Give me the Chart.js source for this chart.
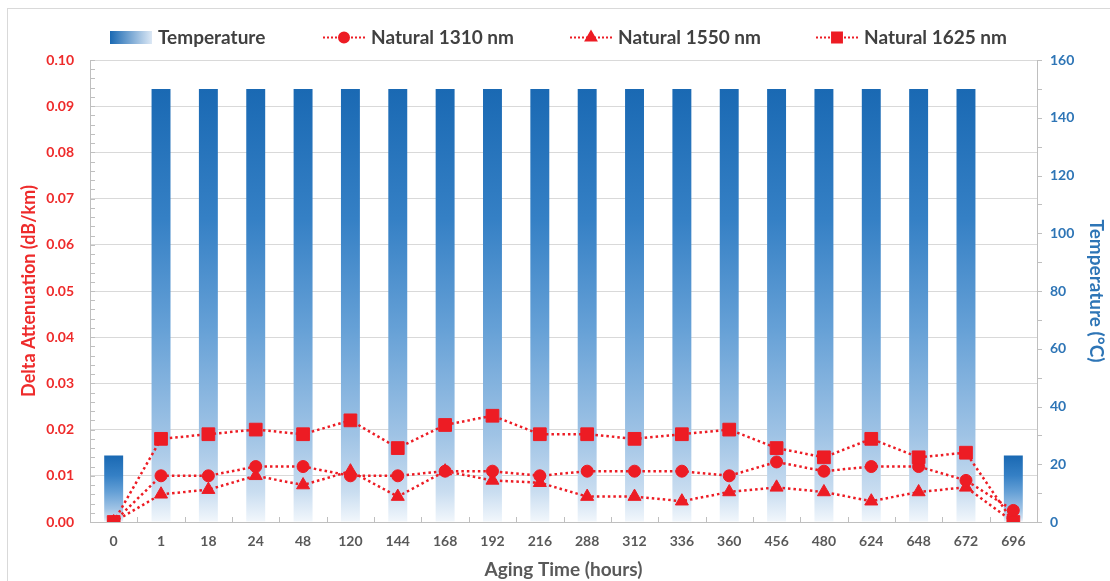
<!DOCTYPE html>
<html>
<head>
<meta charset="utf-8">
<script src="https://cdn.jsdelivr.net/npm/chart.js@4.4.1/dist/chart.umd.min.js"></script>
<style>
  html, body { margin: 0; padding: 0; background: #ffffff; }
  #wrap { position: relative; width: 1110px; height: 581px; }
</style>
</head>
<body>
<div id="wrap"><canvas id="chart" width="1110" height="581"></canvas></div>
<script>
// Aging time points (hours)
const agingHours = ['0', '1', '18', '24', '48', '120', '144', '168', '192', '216',
                    '288', '312', '336', '360', '456', '480', '624', '648', '672', '696'];

// Oven temperature at each step (°C)
const temperatureC = [23, 150, 150, 150, 150, 150, 150, 150, 150, 150,
                      150, 150, 150, 150, 150, 150, 150, 150, 150, 23];

// Delta attenuation per wavelength (dB/km)
const natural1310 = [0, 0.010, 0.010, 0.012, 0.012, 0.010, 0.010, 0.011, 0.011, 0.010,
                     0.011, 0.011, 0.011, 0.010, 0.013, 0.011, 0.012, 0.012, 0.009, 0.0025];
const natural1550 = [0, 0.006, 0.007, 0.010, 0.008, 0.011, 0.0055, 0.011, 0.009, 0.0085,
                     0.0055, 0.0055, 0.0045, 0.0065, 0.0075, 0.0065, 0.0045, 0.0065, 0.0075, 0];
const natural1625 = [0, 0.018, 0.019, 0.020, 0.019, 0.022, 0.016, 0.021, 0.023, 0.019,
                     0.019, 0.018, 0.019, 0.020, 0.016, 0.014, 0.018, 0.014, 0.015, 0];

const legendLabels = ['Temperature', 'Natural 1310 nm', 'Natural 1550 nm', 'Natural 1625 nm'];

const RED = '#ED1C24';
const RED_TEXT = '#EE2B2B';
const BLUE_TEXT = '#2E75B6';
const GREY_TEXT = '#595959';
const FONT = 'Lato, "Open Sans", sans-serif';

// vertical blue fade used for each temperature column
function columnFill(ctx) {
  const chart = ctx.chart;
  if (!chart.chartArea || ctx.type !== 'data') return '#5B9BD5';
  const s = chart.scales.yT;
  const top = s.getPixelForValue(ctx.raw);
  const bottom = s.getPixelForValue(0);
  const g = chart.ctx.createLinearGradient(0, top, 0, bottom);
  g.addColorStop(0, '#1A69B3');
  g.addColorStop(0.3, '#3580C5');
  g.addColorStop(0.55, '#65A0D6');
  g.addColorStop(0.8, '#9FC3E5');
  g.addColorStop(0.93, '#C9DDF0');
  g.addColorStop(1, '#F2F7FC');
  return g;
}

const lineBase = {
  type: 'line',
  yAxisID: 'y',
  borderColor: RED,
  backgroundColor: RED,
  pointBackgroundColor: RED,
  pointBorderColor: RED,
  pointBorderWidth: 1,
  borderWidth: 2.5,
  borderDash: [2.5, 3],
  fill: false,
  tension: 0
};

// inner/outer minor tick marks and the outer frame
const tickMarks = {
  id: 'tickMarks',
  beforeDraw(chart) {
    const c = chart.ctx;
    c.save();
    c.strokeStyle = '#D9D9D9';
    c.lineWidth = 1;
    c.strokeRect(7.5, 8.5, 1300, 1300);
    c.restore();
  },
  afterDraw(chart) {
    const c = chart.ctx;
    const { y, yT, x } = chart.scales;
    c.save();
    c.strokeStyle = '#BFBFBF';
    c.lineWidth = 1;
    c.beginPath();
    for (let v = 0; v <= 0.1 + 1e-9; v += 0.002) {
      const py = Math.round(y.getPixelForValue(v)) + 0.5;
      c.moveTo(x.left, py); c.lineTo(x.left + 5, py);
    }
    for (let v = 0; v <= 160; v += 10) {
      const py = Math.round(yT.getPixelForValue(v)) + 0.5;
      c.moveTo(yT.left, py); c.lineTo(yT.left + 5, py);
    }
    for (let i = 0; i < agingHours.length - 1; i++) {
      const px = Math.round(x.getPixelForValue(i + 0.5)) + 0.5;
      c.moveTo(px, y.bottom); c.lineTo(px, y.bottom - 5);
    }
    c.stroke();
    c.restore();
  }
};

// legend row across the top
const topLegend = {
  id: 'topLegend',
  afterDraw(chart) {
    const c = chart.ctx;
    const cy = 37;
    const symbolX = [110, 323, 570, 816];
    const styles = [null, 'circle', 'triangle', 'rect'];
    const radii = [0, 5, 6, 7];
    c.save();
    c.font = 'bold 19px ' + FONT;
    c.textBaseline = 'middle';
    c.fillStyle = '#404040';
    legendLabels.forEach((label, i) => {
      const sx = symbolX[i];
      if (i === 0) {
        const g = c.createLinearGradient(sx, 0, sx + 42, 0);
        g.addColorStop(0, '#1A69B3');
        g.addColorStop(1, '#DCE8F5');
        c.fillStyle = g;
        c.fillRect(sx, cy - 6, 42, 13);
      } else {
        c.strokeStyle = RED;
        c.lineWidth = 2;
        c.setLineDash([2, 2]);
        c.beginPath();
        c.moveTo(sx, cy + 0.5); c.lineTo(sx + 42, cy + 0.5);
        c.stroke();
        c.setLineDash([]);
        c.fillStyle = RED;
        c.strokeStyle = RED;
        Chart.helpers.drawPoint(c, { pointStyle: styles[i], radius: radii[i], borderWidth: 1 }, sx + 21, cy + 0.5);
      }
      c.fillStyle = '#404040';
      c.fillText(label, sx + 48, cy + 1);
    });
    c.restore();
  }
};

new Chart(document.getElementById('chart'), {
  type: 'bar',
  data: {
    labels: agingHours,
    datasets: [
      Object.assign({}, lineBase, { label: legendLabels[1], data: natural1310, pointStyle: 'circle', pointRadius: 6, order: 1 }),
      Object.assign({}, lineBase, { label: legendLabels[2], data: natural1550, pointStyle: 'triangle', pointRadius: 7.5, order: 2 }),
      Object.assign({}, lineBase, { label: legendLabels[3], data: natural1625, pointStyle: 'rect', pointRadius: 9, order: 0 }),
      {
        type: 'bar',
        label: legendLabels[0],
        data: temperatureC,
        yAxisID: 'yT',
        backgroundColor: columnFill,
        borderWidth: 0,
        categoryPercentage: 1,
        barPercentage: 0.4,
        order: 5
      }
    ]
  },
  options: {
    responsive: false,
    animation: false,
    events: [],
    layout: { padding: { left: 0, right: 0, top: 60, bottom: 0 } },
    plugins: {
      legend: { display: false },
      tooltip: { enabled: false }
    },
    scales: {
      x: {
        type: 'category',
        offset: true,
        grid: { display: false, drawTicks: false },
        border: { display: true, color: '#BFBFBF', width: 1 },
        ticks: { color: GREY_TEXT, font: { family: FONT, size: 14, weight: 'bold' }, padding: 11, maxRotation: 0, autoSkip: false },
        title: { display: true, text: 'Aging Time (hours)', color: GREY_TEXT, font: { family: FONT, size: 19, weight: 'bold' }, padding: { top: 0, bottom: 0 } },
        afterFit(s) { s.height = 59; }
      },
      y: {
        position: 'left',
        min: 0,
        max: 0.1,
        grid: { color: '#D9D9D9', drawTicks: false, lineWidth: 1 },
        border: { display: true, color: '#BFBFBF', width: 1 },
        ticks: { stepSize: 0.01, color: RED_TEXT, font: { family: FONT, size: 14, weight: 'bold' }, padding: 16,
                 callback: v => Number(v).toFixed(2) },
        title: { display: true, text: 'Delta Attenuation (dB/km)', color: RED_TEXT, font: { family: FONT, size: 18, weight: 'bold' }, padding: { top: 18, bottom: 0 } },
        afterFit(s) { s.width = 90; }
      },
      yT: {
        position: 'right',
        min: 0,
        max: 160,
        grid: { drawOnChartArea: false, drawTicks: false },
        border: { display: true, color: '#BFBFBF', width: 1 },
        ticks: { stepSize: 20, color: BLUE_TEXT, font: { family: FONT, size: 14, weight: 'bold' }, padding: 13 },
        title: { display: true, text: 'Temperature (°C)', color: BLUE_TEXT, font: { family: FONT, size: 19, weight: 'bold' }, padding: { top: 2, bottom: 0 } },
        afterFit(s) { s.width = 73; }
      }
    }
  },
  plugins: [tickMarks, topLegend]
});
</script>
</body>
</html>
